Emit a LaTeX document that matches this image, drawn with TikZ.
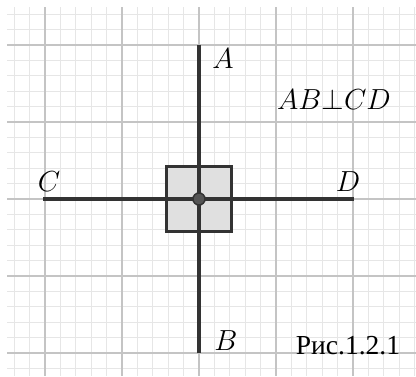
\RequirePackage{fix-cm}
\documentclass[tikz,border=0pt]{standalone}
\usepackage{fontspec}
\newfontfamily\cyrfont{Liberation Serif}
\definecolor{minorgrid}{HTML}{E6E6E6}
\definecolor{majorgrid}{HTML}{C4C4C4}
\definecolor{segcol}{HTML}{333333}
\definecolor{sqfill}{HTML}{E0E0E0}
\definecolor{dotfill}{HTML}{555555}
\begin{document}
\begin{tikzpicture}[x=1pt,y=-1pt,
  seg/.style={draw=segcol,line width=3.2pt},
  lbl/.style={anchor=base,inner sep=0pt,font=\fontsize{29}{32}\selectfont},
  figcap/.style={anchor=base,inner sep=0pt,font=\cyrfont\fontsize{27.5}{30}\selectfont}]
\useasboundingbox (0,0) rectangle (416,376);
\fill[white] (0,0) rectangle (416,376);
\begin{scope}
\clip (7,7) rectangle (416,376);
\foreach \i in {-3,...,27} {
  \draw[minorgrid,line width=1pt] ({45+15.4*\i},0) -- ({45+15.4*\i},376);
  \draw[minorgrid,line width=1pt] (0,{45+15.4*\i}) -- (416,{45+15.4*\i});
}
\foreach \i in {0,...,4} {
  \draw[majorgrid,line width=1.4pt] ({45+77*\i},0) -- ({45+77*\i},376);
  \draw[majorgrid,line width=1.4pt] (0,{45+77*\i}) -- (416,{45+77*\i});
}
\end{scope}
\coordinate (A) at (199,45);
\coordinate (B) at (199,353);
\coordinate (C) at (43,199);
\coordinate (D) at (354,199);
\coordinate (O) at (199,199);
\draw[draw=segcol,fill=sqfill,line width=3pt] (166.5,166.5) rectangle (231.5,231.5);
\draw[seg] (A) -- (B);
\draw[seg] (C) -- (D);
\node[circle,draw=segcol,fill=dotfill,line width=1.5pt,minimum size=12pt,inner sep=0pt] (Odot) at (O) {};
\node[lbl] (la) at (223,68) {$A$};
\node[lbl] (lb) at (226,350) {$B$};
\node[lbl] (lc) at (49,191) {$C$};
\node[lbl] (ld) at (348,191) {$D$};
\node[lbl] (lperp) at (334,109) {$AB{\perp}CD$};
\node[figcap] (lcap) at (348,354) {Рис.1.2.1};
\end{tikzpicture}
\end{document}
